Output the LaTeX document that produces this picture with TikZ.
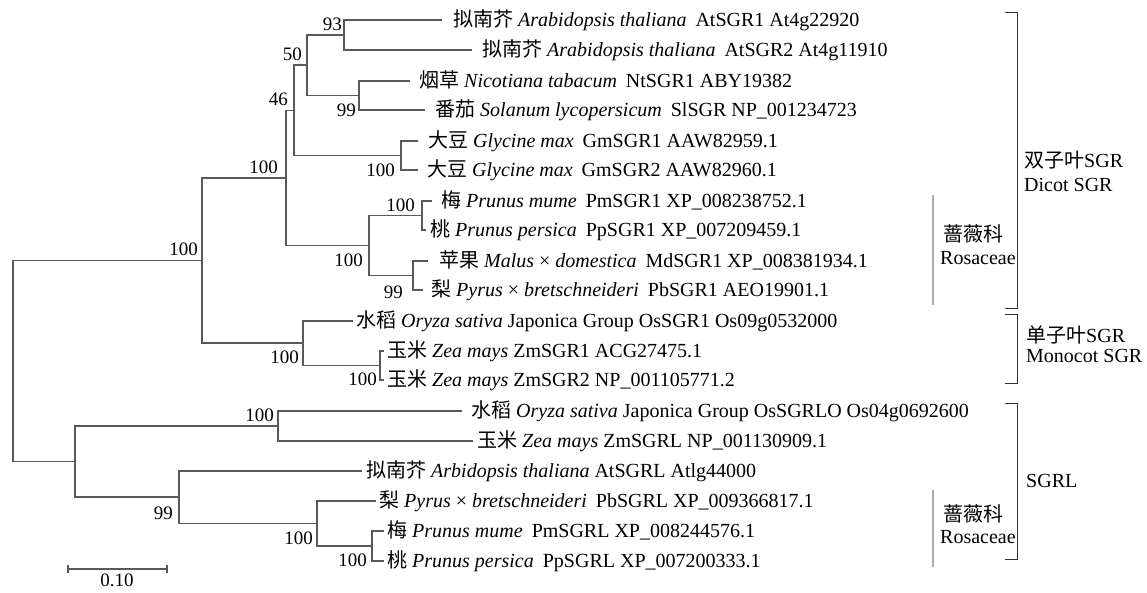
\documentclass[tikz,border=0pt]{standalone}
\usepackage{fontspec}
\setmainfont{Liberation Serif}
\newfontfamily\cjk{Noto Sans CJK SC}
\definecolor{treeline}{gray}{0.35}
\definecolor{rosline}{gray}{0.68}
\definecolor{brline}{gray}{0.2}
\newcommand{\gapp}{\hspace{0.45em}}
\newcommand{\cross}{{\upshape ×}}
\begin{document}
\begin{tikzpicture}[x=1pt,y=-1pt,
  branch/.style={draw=treeline,line width=1.1pt},
  leaf/.style={anchor=west,inner xsep=#1,inner ysep=0pt,text height=15pt,text depth=2pt,font=\fontsize{20}{24}\selectfont},
  leaf/.default=5pt,
  boot/.style={anchor=east,inner sep=0pt,text height=13pt,text depth=0pt,font=\fontsize{19}{22}\selectfont},
  grp/.style={anchor=west,inner sep=0pt,text height=15pt,text depth=2pt,font=\fontsize{20}{24}\selectfont},
  bracket/.style={draw=brline,line width=0.9pt},
  rosbar/.style={draw=rosline,line width=1.8pt}]
\useasboundingbox (0,0) rectangle (1147,592);

% internal nodes
\coordinate (R) at (13,361);
\coordinate (A) at (202,260.5);
\coordinate (B) at (286,178);
\coordinate (C) at (294,110.5);
\coordinate (D) at (307,65);
\coordinate (E) at (344,35);
\coordinate (F) at (359,95.5);
\coordinate (G) at (401,155.5);
\coordinate (H) at (369,245.5);
\coordinate (I) at (422,215.5);
\coordinate (J) at (413,275.5);
\coordinate (K) at (303,343);
\coordinate (L) at (380,365.5);
\coordinate (M) at (75,461.5);
\coordinate (N) at (278,426);
\coordinate (O) at (179,497);
\coordinate (P) at (317,523.5);
\coordinate (Q) at (372,546);

% leaves
\node[leaf=11pt] (l1) at (442,20) {{\cjk 拟南芥} \textit{Arabidopsis thaliana}\gapp AtSGR1 At4g22920};
\node[leaf=10pt] (l2) at (472,50) {{\cjk 拟南芥} \textit{Arabidopsis thaliana}\gapp AtSGR2 At4g11910};
\node[leaf=9pt] (l3) at (410,81) {{\cjk 烟草} \textit{Nicotiana tabacum}\gapp NtSGR1 ABY19382};
\node[leaf=10pt] (l4) at (425,110) {{\cjk 番茄} \textit{Solanum lycopersicum}\gapp SlSGR NP\_001234723};
\node[leaf=10pt] (l5) at (418,141) {{\cjk 大豆} \textit{Glycine max}\gapp GmSGR1 AAW82959.1};
\node[leaf=9pt] (l6) at (418,170) {{\cjk 大豆} \textit{Glycine max}\gapp GmSGR2 AAW82960.1};
\node[leaf=9pt] (l7) at (432,201) {{\cjk 梅} \textit{Prunus mume}\gapp PmSGR1 XP\_008238752.1};
\node[leaf=4pt] (l8) at (426,230) {{\cjk 桃} \textit{Prunus persica}\gapp PpSGR1 XP\_007209459.1};
\node[leaf=11pt] (l9) at (428,261) {{\cjk 苹果} \textit{Malus \cross\ domestica}\gapp MdSGR1 XP\_008381934.1};
\node[leaf=8pt] (l10) at (423,290) {{\cjk 梨} \textit{Pyrus \cross\ bretschneideri}\gapp PbSGR1 AEO19901.1};
\node[leaf=3pt] (l11) at (353,321) {{\cjk 水稻} \textit{Oryza sativa} Japonica Group OsSGR1 Os09g0532000};
\node[leaf=3pt] (l12) at (384,351) {{\cjk 玉米} \textit{Zea mays} ZmSGR1 ACG27475.1};
\node[leaf=3pt] (l13) at (384,380) {{\cjk 玉米} \textit{Zea mays} ZmSGR2 NP\_001105771.2};
\node[leaf=9pt] (l14) at (462,411) {{\cjk 水稻} \textit{Oryza sativa} Japonica Group OsSGRLO Os04g0692600};
\node[leaf=4pt] (l15) at (473,441) {{\cjk 玉米} \textit{Zea mays} ZmSGRL NP\_001130909.1};
\node[leaf=4pt] (l16) at (362,471) {{\cjk 拟南芥} \textit{Arbidopsis thaliana} AtSGRL Atlg44000};
\node[leaf=3pt] (l17) at (376,501) {{\cjk 梨} \textit{Pyrus \cross\ bretschneideri}\gapp PbSGRL XP\_009366817.1};
\node[leaf=3pt] (l18) at (384,531) {{\cjk 梅} \textit{Prunus mume}\gapp PmSGRL XP\_008244576.1};
\node[leaf=3pt] (l19) at (384,561) {{\cjk 桃} \textit{Prunus persica}\gapp PpSGRL XP\_007200333.1};

% branches
\draw[branch] (R) |- (A);
\draw[branch] (R) |- (M);
\draw[branch] (A) |- (B);
\draw[branch] (A) |- (K);
\draw[branch] (B) |- (C);
\draw[branch] (B) |- (H);
\draw[branch] (C) |- (D);
\draw[branch] (C) |- (G);
\draw[branch] (D) |- (E);
\draw[branch] (D) |- (F);
\draw[branch] (E) |- (l1.west);
\draw[branch] (E) |- (l2.west);
\draw[branch] (F) |- (l3.west);
\draw[branch] (F) |- (l4.west);
\draw[branch] (G) |- (l5.west);
\draw[branch] (G) |- (l6.west);
\draw[branch] (H) |- (I);
\draw[branch] (H) |- (J);
\draw[branch] (I) |- (l7.west);
\draw[branch] (I) |- (l8.west);
\draw[branch] (J) |- (l9.west);
\draw[branch] (J) |- (l10.west);
\draw[branch] (K) |- (l11.west);
\draw[branch] (K) |- (L);
\draw[branch] (L) |- (l12.west);
\draw[branch] (L) |- (l13.west);
\draw[branch] (M) |- (N);
\draw[branch] (M) |- (O);
\draw[branch] (N) |- (l14.west);
\draw[branch] (N) |- (l15.west);
\draw[branch] (O) |- (l16.west);
\draw[branch] (O) |- (P);
\draw[branch] (P) |- (l17.west);
\draw[branch] (P) |- (Q);
\draw[branch] (Q) |- (l18.west);
\draw[branch] (Q) |- (l19.west);

% bootstrap values
\node[boot] (bE) at ([shift={(-2,-11)}]E) {93};
\node[boot] (bD) at ([shift={(-5,-11)}]D) {50};
\node[boot] (bC) at ([shift={(-6,-12)}]C) {46};
\node[boot] (bB) at ([shift={(-8,-11)}]B) {100};
\node[boot] (bA) at ([shift={(-4,-12)}]A) {100};
\node[boot] (bF) at ([shift={(-3,14)}]F) {99};
\node[boot] (bG) at ([shift={(-6,14)}]G) {100};
\node[boot] (bH) at ([shift={(-6,14)}]H) {100};
\node[boot] (bI) at ([shift={(-7,-11)}]I) {100};
\node[boot] (bJ) at ([shift={(-10,16)}]J) {99};
\node[boot] (bK) at ([shift={(-4,14)}]K) {100};
\node[boot] (bL) at ([shift={(-3,13)}]L) {100};
\node[boot] (bN) at ([shift={(-4,-11)}]N) {100};
\node[boot] (bO) at ([shift={(-6,16)}]O) {99};
\node[boot] (bP) at ([shift={(-4,14)}]P) {100};
\node[boot] (bQ) at ([shift={(-5,14)}]Q) {100};

% group brackets
\draw[bracket] (1005,12) -| (1017,308) -- (1005,308);
\draw[bracket] (1005,314) -| (1017,383) -- (1005,383);
\draw[bracket] (1005,403) -| (1017,559) -- (1005,559);
\node[grp] (g1a) at (1024,161) {{\cjk 双子叶}SGR};
\node[grp] (g1b) at (1024,185) {Dicot SGR};
\node[grp] (g2a) at (1026,336) {{\cjk 单子叶}SGR};
\node[grp] (g2b) at (1026,356) {Monocot SGR};
\node[grp] (g3) at (1026,481) {SGRL};

% Rosaceae marks
\draw[rosbar] (933,195) -- (933,305);
\node[grp] (r1a) at (943,235) {{\cjk 蔷薇科}};
\node[grp] (r1b) at (940,258) {Rosaceae};
\draw[rosbar] (933,490) -- (933,567);
\node[grp] (r2a) at (943,515) {{\cjk 蔷薇科}};
\node[grp] (r2b) at (940,537) {Rosaceae};

% scale bar
\coordinate (s1) at (68,569);
\coordinate (s2) at (167,569);
\draw[branch] (s1) -- (s2);
\draw[branch] ([yshift=-4]s1) -- ([yshift=4]s1);
\draw[branch] ([yshift=-4]s2) -- ([yshift=4]s2);
\node[boot,anchor=center] (sl) at (117,580) {0.10};
\end{tikzpicture}
\end{document}
